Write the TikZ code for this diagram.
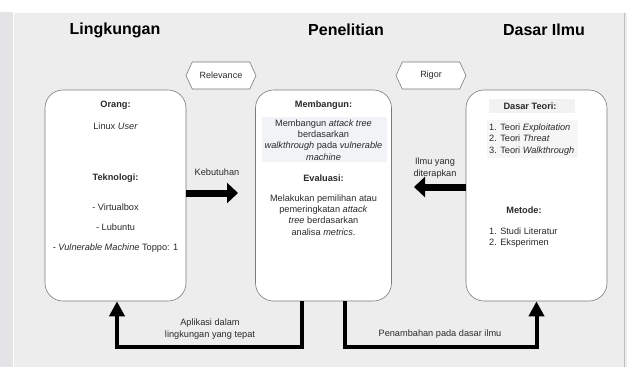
\documentclass[tikz,border=0pt]{standalone}
\usepackage{fontspec}
\setmainfont{Liberation Sans}
\usetikzlibrary{arrows.meta,shapes.symbols}
\definecolor{panelbg}{HTML}{EDEDED}
\definecolor{outerbg}{HTML}{E4E4E7}
\definecolor{boxline}{HTML}{7A7A7A}
\definecolor{hilite}{HTML}{F1F3F6}
\definecolor{hilitegray}{HTML}{F2F2F2}
\definecolor{txt}{HTML}{2A2A2A}
\tikzset{
  title/.style={font=\fontsize{16}{18}\selectfont\bfseries, text=black, inner sep=0pt},
  small/.style={font=\fontsize{9.2}{11.4}\selectfont, text=txt, inner sep=0pt, align=center},
  smallbold/.style={small, font=\fontsize{9.2}{11.4}\selectfont\bfseries},
  bigbox/.style={draw=boxline, line width=0.6pt, fill=white, rounded corners=18pt},
  hexbox/.style={shape=signal, signal to=west and east, signal pointer angle=130,
    draw=boxline, line width=0.6pt, fill=white, minimum width=70pt, minimum height=27pt,
    inner sep=2pt, font=\fontsize{9}{10}\selectfont, text=txt},
  fatarrow/.style={line width=7pt, -{Triangle[width=20pt,length=11pt]}},
  flowline/.style={line width=4pt, -{Triangle[width=15pt,length=15pt]}}
}
\begin{document}
\begin{tikzpicture}[x=1pt,y=-1pt]
\useasboundingbox (0,0) rectangle (627,367);
% backgrounds
\fill[white] (0,0) rectangle (627,367);
\fill[outerbg] (0,12) rectangle (13,367);
\fill[panelbg] (13,12) rectangle (627,367);
\draw[white, line width=0.8pt] (13.5,367) -- (13.5,12.5) -- (627,12.5);
\draw[black!25, line width=0.6pt] (624.5,12.5) -- (624.5,367);

% titles
\node[title] (t1) at (115,30) {Lingkungan};
\node[title] (t2) at (346,30) {Penelitian};
\node[title] (t3) at (544,30) {Dasar Ilmu};

% hexagons
\node[hexbox] (rel) at (221,75.5) {Relevance};
\node[hexbox] (rig) at (431,75.5) {Rigor};

% boxes
\node[bigbox, minimum width=141pt, minimum height=211pt] (env) at (115.5,195.5) {};
\node[bigbox, minimum width=136pt, minimum height=211pt] (res) at (323.5,195.5) {};
\node[bigbox, minimum width=141pt, minimum height=211pt] (kb) at (536.5,195.5) {};

% left box text
\node[smallbold] (orang) at (115.5,105) {Orang:};
\node[small] (linux) at (115.5,126) {Linux \textit{User}};
\node[smallbold] (tek) at (115.5,178) {Teknologi:};
\node[small] (vb) at (115.5,207) {- Virtualbox};
\node[small] (lub) at (115.5,227) {- Lubuntu};
\node[small] (vm) at (115.5,248) {- \textit{Vulnerable Machine} Toppo: 1};

% middle box text
\fill[hilite] (262,117) rectangle (387,162);
\node[smallbold] (mb) at (323.5,105) {Membangun:};
\node[small] (mbt) at (323.5,140) {Membangun \textit{attack tree}\\berdasarkan\\\textit{walkthrough} pada \textit{vulnerable}\\\textit{machine}};
\node[smallbold] (ev) at (323.5,178) {Evaluasi:};
\node[small] (evt) at (323.5,215) {Melakukan pemilihan atau\\pemeringkatan \textit{attack}\\\textit{tree} berdasarkan\\analisa \textit{metrics}.};

% right box text
\fill[hilitegray] (489,99) rectangle (575,113);
\fill[hilitegray!70!white] (487,120) rectangle (578,158);
\node[smallbold] (dt) at (530,106) {Dasar Teori:};
\node[small, align=left, anchor=west] (dtl) at (489,139.5) {1. Teori \textit{Exploitation}\\2. Teori \textit{Threat}\\3. Teori \textit{Walkthrough}};
\node[smallbold] (met) at (524,210) {Metode:};
\node[small, align=left, anchor=west] (metl) at (489,237.5) {1. Studi Literatur\\2. Eksperimen};

% side arrows
\coordinate (kbtip) at (238,193);
\draw[fatarrow] (env.east |- kbtip) -- (kbtip);
\node[small] (kebut) at (217,172) {Kebutuhan};
\coordinate (iltip) at (414,187);
\draw[fatarrow] (kb.west |- iltip) -- (iltip);
\node[small] (ilmu) at (435,168) {Ilmu yang\\diterapkan};

% bottom loops
\coordinate (c1) at (302,347);
\coordinate (c2) at (117,347);
\draw[flowline] (res.south -| c1) -- (c1) -- (c2) -- (env.south -| c2);
\coordinate (c3) at (345,347);
\coordinate (c4) at (536.5,347);
\draw[flowline] (res.south -| c3) -- (c3) -- (c4) -- (kb.south -| c4);
\node[small] (apl) at (210,329) {Aplikasi dalam\\lingkungan yang tepat};
\node[small] (pen) at (440,334) {Penambahan pada dasar ilmu};
\end{tikzpicture}
\end{document}
